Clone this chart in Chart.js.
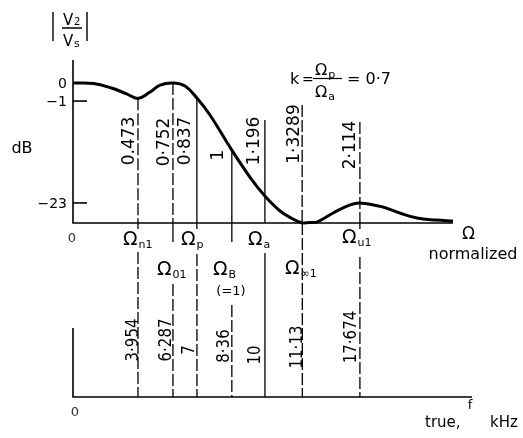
<!DOCTYPE html>
<html>
<head>
<meta charset="utf-8">
<script src="https://cdn.jsdelivr.net/npm/chart.js@4/dist/chart.umd.min.js"></script>
<style>
  html, body { margin: 0; padding: 0; background: #fff; }
  canvas { display: block; }
</style>
</head>
<body>
<canvas id="response" width="523" height="438"></canvas>
<script>
// normalized frequencies of the marked points and their labels
const omegaMarks = [0.473, 0.752, 0.837, 1, 1.196, 1.3289, 2.114];
const omegaLabels = ['0.473', '0·752', '0·837', '1', '1·196', '1·3289', '2·114'];

// the same points as true frequencies, kHz
const trueKHz = [3.954, 6.287, 7, 8.36, 10, 11.13, 17.674];
const trueLabels = ['3·954', '6·287', '7', '8·36', '10', '11·13', '17·674'];
const bandEdgeKHz = 8.36;   // Ω = 1

// loss curve |V2/Vs| in dB; -40 stands for the pole at Ω∞1 (drawn on the axis)
const curveOmega = [0, 0.15, 0.28, 0.39, 0.473, 0.57, 0.65, 0.752, 0.795, 0.837, 0.898,
  1.0, 1.107, 1.196, 1.25, 1.293, 1.3289, 1.43, 1.53, 1.75, 1.98, 2.114, 2.38, 2.58, 2.78, 3.0, 3.2];
const curveDb = [0, -0.03, -0.28, -0.6, -0.85, -0.5, -0.12, 0, -0.17, -0.83, -4.0,
  -11.6, -17.4, -21.5, -29.8, -36.2, -40, -39.6, -39.2, -31.5, -24.7, -23, -26.4, -31.5, -35.8, -37.5, -38.3];

const dbTicks = [0, -1, -23];
const dbTickLabels = ['0', '−1', '−23'];

// both axes are sketched, not to scale: piecewise-linear value -> fraction of axis length
const axisKnots = {
  x: { values: [0, 0.473, 0.752, 0.837, 1, 1.196, 1.3289, 2.114, 3.2],
       fractions: [0, 0.171, 0.263, 0.326, 0.418, 0.505, 0.603, 0.755, 1] },
  y: { values: [-40, -23, -1, 0, 5],
       fractions: [0, 0.123, 0.748, 0.859, 1] }
};

function interp(xs, ys, v) {
  for (let i = 1; i < xs.length; i++) {
    if (v <= xs[i] || i === xs.length - 1) {
      const t = (v - xs[i - 1]) / (xs[i] - xs[i - 1]);
      return ys[i - 1] + t * (ys[i] - ys[i - 1]);
    }
  }
}

class SketchScale extends Chart.LinearScale {
  getPixelForValue(value) {
    const k = axisKnots[this.axis];
    return this.getPixelForDecimal(interp(k.values, k.fractions, value));
  }
  getValueForPixel(pixel) {
    const k = axisKnots[this.axis];
    return interp(k.fractions, k.values, this.getDecimalForPixel(pixel));
  }
}
SketchScale.id = 'sketch';
Chart.register(SketchScale);

const FONT = '"DejaVu Sans", sans-serif';

// per marker: where the upper line starts (null = on the curve), dash style,
// short drop below the axis, where the lower line starts, label offsets
const markerLayout = [
  { top: null, topDash: true,  drop: 229, low: 252, lowDash: true,  lab: [-10, 141], low_lab: [-6, 340] },
  { top: null, topDash: true,  drop: 242, low: 284, lowDash: true,  lab: [-10, 142], low_lab: [-8, 340] },
  { top: null, topDash: false, drop: 229, low: 254, lowDash: true,  lab: [-13, 141], low_lab: [-9, 350] },
  { top: null, topDash: false, drop: 242, low: 305, lowDash: true,  lab: [-15, 155], low_lab: [-9, 346] },
  { top: 120,  topDash: false, drop: null, low: 253, lowDash: false, lab: [-12, 141], low_lab: [-11, 355] },
  { top: 105,  topDash: true,  drop: null, low: 223, lowDash: true,  lab: [-9, 134],  low_lab: [-7, 347] },
  { top: 122,  topDash: true,  drop: 229, low: 257, lowDash: true,  lab: [-11, 145], low_lab: [-10, 337] }
];
const LOWER_AXIS_Y = 397;

function text(ctx, s, x, y, size, align) {
  ctx.font = size + 'px ' + FONT;
  ctx.textAlign = align || 'left';
  ctx.textBaseline = 'alphabetic';
  ctx.fillText(s, x, y);
}

// vertical text reading upwards, centred on (cx, cy)
function vText(ctx, s, cx, cy, size, squeeze) {
  ctx.save();
  ctx.translate(cx + size * 0.365, cy);
  ctx.rotate(-Math.PI / 2);
  ctx.scale(squeeze || 1, 1);
  ctx.font = size + 'px ' + FONT;
  ctx.textAlign = 'center';
  ctx.textBaseline = 'alphabetic';
  ctx.fillText(s, 0, 0);
  ctx.restore();
}

function omega(ctx, x, y, sub, size) {
  size = size || 19;
  text(ctx, 'Ω', x, y, size);
  ctx.font = size + 'px ' + FONT;
  const w = ctx.measureText('Ω').width;
  text(ctx, sub, x + w + 1, y + 3, 11);
}

function vline(ctx, x, y0, y1, dashed) {
  ctx.setLineDash(dashed ? [12, 3] : []);
  ctx.beginPath();
  ctx.moveTo(x, y0);
  ctx.lineTo(x, y1);
  ctx.stroke();
}

const sketchPlugin = {
  id: 'sketchLayout',
  beforeDatasetsDraw(chart) {
    const { ctx, chartArea: a, scales: { x, y } } = chart;
    ctx.save();
    ctx.strokeStyle = '#000';

    // axes of the normalized plot
    ctx.lineWidth = 1.6;
    ctx.setLineDash([]);
    ctx.beginPath();
    ctx.moveTo(a.left, a.top);
    ctx.lineTo(a.left, a.bottom);
    ctx.lineTo(a.right, a.bottom);
    ctx.stroke();
    dbTicks.forEach(v => {
      if (v === 0) return;
      const py = y.getPixelForValue(v);
      ctx.beginPath();
      ctx.moveTo(a.left, py);
      ctx.lineTo(a.left + 14, py);
      ctx.stroke();
    });

    // true-frequency axis below
    ctx.beginPath();
    ctx.moveTo(a.left, 328);
    ctx.lineTo(a.left, LOWER_AXIS_Y);
    ctx.lineTo(a.right + 19, LOWER_AXIS_Y);
    ctx.stroke();

    // marker lines
    ctx.lineWidth = 1.3;
    omegaMarks.forEach((w, i) => {
      const m = markerLayout[i];
      const px = x.getPixelForValue(w);
      const k = curveOmega.indexOf(w);
      const top = m.top === null ? y.getPixelForValue(curveDb[k]) : m.top;
      vline(ctx, px, top, a.bottom, m.topDash);
      if (m.drop) vline(ctx, px, a.bottom, m.drop, false);
      const lx = x.getPixelForValue(trueKHz[i] / bandEdgeKHz);
      vline(ctx, lx, m.low, LOWER_AXIS_Y, m.lowDash);
    });
    ctx.restore();
  },
  afterDraw(chart) {
    const { ctx, chartArea: a, scales: { x, y } } = chart;
    ctx.save();
    ctx.fillStyle = '#000';
    ctx.strokeStyle = '#000';

    // |V2/Vs|
    ctx.lineWidth = 1.4;
    ctx.beginPath();
    ctx.moveTo(53, 12); ctx.lineTo(53, 41);
    ctx.moveTo(87, 12); ctx.lineTo(87, 41);
    ctx.moveTo(62, 28); ctx.lineTo(82, 28);
    ctx.stroke();
    text(ctx, 'V', 63, 25, 15);
    text(ctx, '2', 74, 25, 10);
    text(ctx, 'V', 63, 46, 15);
    text(ctx, 's', 74, 47, 11);

    text(ctx, 'dB', 22, 153, 16, 'center');
    dbTicks.forEach((v, i) => {
      text(ctx, dbTickLabels[i], a.left - 6, y.getPixelForValue(v) + 5, 14, 'right');
    });

    // k = Ωp / Ωa = 0·7
    text(ctx, 'k', 290, 84, 16);
    text(ctx, '=', 302, 84, 14);
    omega(ctx, 315, 75, 'p', 16);
    ctx.lineWidth = 1.2;
    ctx.beginPath();
    ctx.moveTo(313, 78.5); ctx.lineTo(342, 78.5);
    ctx.stroke();
    omega(ctx, 315, 97, 'a', 16);
    text(ctx, '= 0·7', 347, 84, 16);

    // marker values
    omegaMarks.forEach((w, i) => {
      const m = markerLayout[i];
      const px = x.getPixelForValue(w);
      vText(ctx, omegaLabels[i], px + m.lab[0], m.lab[1], 17);
      const lx = x.getPixelForValue(trueKHz[i] / bandEdgeKHz);
      vText(ctx, trueLabels[i], lx + m.low_lab[0], m.low_lab[1], 17, 0.88);
    });

    // frequency names along the normalized axis
    ctx.fillStyle = '#333';
    text(ctx, '0', 72, 242, 13, 'center');
    text(ctx, '0', 75, 416, 13, 'center');
    ctx.fillStyle = '#000';
    omega(ctx, 123, 245, 'n1');
    omega(ctx, 181, 245, 'p');
    omega(ctx, 248, 245, 'a');
    omega(ctx, 342, 243, 'u1');
    omega(ctx, 157, 275, '01');
    omega(ctx, 213, 275, 'B');
    omega(ctx, 285, 274, '∞1');
    text(ctx, '(=1)', 231, 295, 13, 'center');
    text(ctx, 'Ω', 462, 239, 17);
    text(ctx, 'normalized', 473, 259, 16, 'center');

    text(ctx, 'f', 470, 409, 13, 'center');
    text(ctx, 'true,', 425, 427, 15);
    text(ctx, 'kHz', 490, 427, 15);
    ctx.restore();
  }
};

new Chart(document.getElementById('response'), {
  type: 'line',
  data: {
    datasets: [{
      data: curveOmega.map((w, i) => ({ x: w, y: curveDb[i] })),
      borderColor: '#000',
      borderWidth: 3,
      pointRadius: 0,
      fill: false,
      clip: false,
      tension: 0.4
    }]
  },
  options: {
    responsive: false,
    animation: false,
    events: [],
    layout: { padding: { left: 73, right: 70, top: 60, bottom: 215 } },
    plugins: { legend: { display: false }, tooltip: { enabled: false } },
    scales: {
      x: { type: 'sketch', min: 0, max: 3.2, display: false },
      y: { type: 'sketch', min: -40, max: 5, display: false }
    }
  },
  plugins: [sketchPlugin]
});
</script>
</body>
</html>
